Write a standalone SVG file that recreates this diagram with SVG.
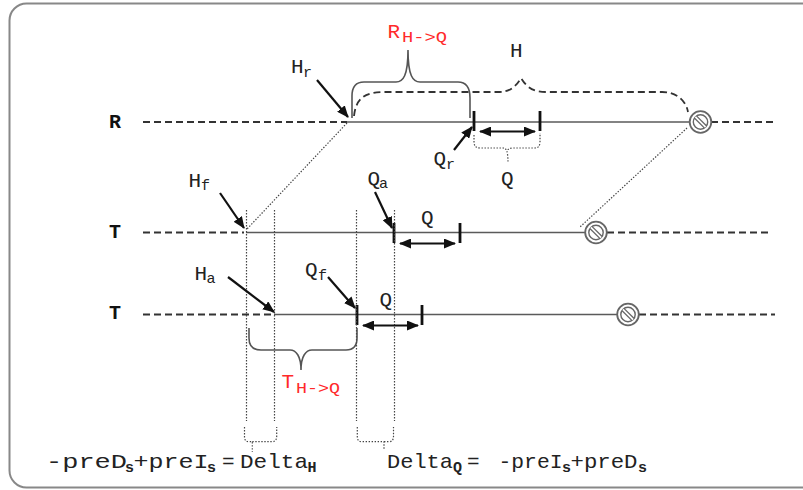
<svg xmlns="http://www.w3.org/2000/svg" xmlns:xlink="http://www.w3.org/1999/xlink" width="803" height="490" viewBox="0 0 803 490">
<style>
.dash{fill:none;stroke:#333;stroke-width:1.8;stroke-dasharray:7 4}
.solid{fill:none;stroke:#5a5a5a;stroke-width:1.7}
.tick{stroke:#111;stroke-width:2.8}
.ptr{stroke:#111;stroke-width:2.2;fill:none;marker-end:url(#ah)}
.dbl{stroke:#111;stroke-width:2.2;fill:none;marker-start:url(#ah);marker-end:url(#ah)}
.dot{fill:none;stroke:#444;stroke-width:1.2;stroke-dasharray:1.4 1.6}
.brace{fill:none;stroke:#555;stroke-width:1.6}
.lbl{font-family:"Liberation Mono",monospace;font-size:21px;fill:#222}
.sub{font-family:"Liberation Mono",monospace;font-size:15px;fill:#222}
.rsub{font-family:"Liberation Mono",monospace;font-size:14px;fill:#ff2a2a}
.red{fill:#ff2a2a}
.axis{font-family:"Liberation Mono",monospace;font-size:20px;font-weight:bold;fill:#111}
.eq{font-family:"Liberation Mono",monospace;font-size:21px;fill:#222}
.eqs{font-family:"Liberation Mono",monospace;font-size:15px;font-weight:bold;fill:#222}
</style>
<defs>
<marker id="ah" viewBox="0 0 12 10" refX="11" refY="5" markerWidth="12" markerHeight="10" markerUnits="userSpaceOnUse" orient="auto-start-reverse">
<path d="M0,0 L12,5 L0,10 z" fill="#111"/>
</marker>
<g id="stopSym">
<circle r="10.8" fill="#fff" stroke="#666" stroke-width="1.8"/>
<circle r="7.2" fill="none" stroke="#666" stroke-width="1.4"/>
<line x1="-5.1" y1="-5.1" x2="5.1" y2="5.1" stroke="#666" stroke-width="4.2"/>
<line x1="-5.1" y1="-5.1" x2="5.1" y2="5.1" stroke="#fff" stroke-width="1.6"/>
</g>
</defs>
<rect width="803" height="490" fill="#fff"/>
<rect id="frame" x="9.5" y="3.5" width="830" height="484" rx="17" fill="none" stroke="#888" stroke-width="2"/>

<g id="timeline-R">
<text class="axis" x="109" y="128">R</text>
<line class="dash" x1="143" y1="122" x2="347" y2="122"/>
<line class="solid" x1="347" y1="122" x2="690" y2="122"/>
<line class="dash" x1="711" y1="122" x2="775" y2="122"/>
<use xlink:href="#stopSym" x="700.5" y="122"/>
<line class="tick" x1="474" y1="111" x2="474" y2="131"/>
<line class="tick" x1="540" y1="111" x2="540" y2="131"/>
</g>

<g id="timeline-T1">
<text class="axis" x="109" y="238">T</text>
<line class="dash" x1="143" y1="232.5" x2="244" y2="232.5"/>
<line class="solid" x1="246" y1="232.5" x2="586" y2="232.5"/>
<line class="dash" x1="607" y1="232.5" x2="772" y2="232.5"/>
<use xlink:href="#stopSym" x="596" y="232.5"/>
<line class="tick" x1="394" y1="223" x2="394" y2="243"/>
<line class="tick" x1="460" y1="223" x2="460" y2="243"/>
</g>

<g id="timeline-T2">
<text class="axis" x="109" y="319">T</text>
<line class="dash" x1="143" y1="314.5" x2="272" y2="314.5"/>
<line class="solid" x1="274" y1="314.5" x2="617" y2="314.5"/>
<line class="dash" x1="639" y1="314.5" x2="775" y2="314.5"/>
<use xlink:href="#stopSym" x="628" y="314.5"/>
<line class="tick" x1="357" y1="305" x2="357" y2="325"/>
<line class="tick" x1="422" y1="305" x2="422" y2="325"/>
</g>

<g id="brace-R">
<path class="brace" d="M352 118 L352 96 C352 87 356 82 364 82 L396 82 C403 82 408 76 408 50 C408 76 413 82 420 82 L458 82 C466 82 470 88 470 98 L470 118"/>
<text class="lbl red" x="387.5" y="38">R</text>
<text class="rsub" x="402" y="42" textLength="45" lengthAdjust="spacingAndGlyphs">H-&gt;Q</text>
</g>

<g id="curve-H">
<path class="dash" d="M354 116 C356 98 365 92 385 92 L498 92 C509 92 515 88 521 78 C527 88 534 92 546 92 L662 92 C676 92 686 100 688 112" stroke-width="2"/>
<text class="lbl" x="510" y="57">H</text>
</g>

<g id="brace-Q">
<path class="dot" d="M474 135 L474 142 C474 146 476 148 480 148 L503 148 C506 148 508 150 508 163 M508 150 C508 149 510 148 513 148 L535 148 C538 148 540 146 540 142 L540 133"/>
<text class="lbl" x="501" y="185">Q</text>
</g>

<g id="brace-T">
<path class="brace" d="M249 328 L249 338 C249 346 253 350 261 350 L290 350 C296 350 301 356 301 370 C301 356 306 350 312 350 L346 350 C353 350 357 346 357 338 L357 328"/>
<text class="lbl red" x="281.5" y="388">T</text>
<text class="rsub" x="296" y="393" textLength="44" lengthAdjust="spacingAndGlyphs">H-&gt;Q</text>
</g>

<g id="guides">
<line class="dot" x1="246.5" y1="210" x2="246.5" y2="421"/>
<line class="dot" x1="274.5" y1="210" x2="274.5" y2="421"/>
<line class="dot" x1="356.5" y1="210" x2="356.5" y2="421"/>
<line class="dot" x1="394.5" y1="210" x2="394.5" y2="421"/>
<path class="dot" d="M244.5 427 L244.5 437 C244.5 440 246 441.7 249 441.7 L252.3 441.7 L252.3 452 M252.3 441.7 L272 441.7 C275 441.7 276.7 440 276.7 436 L276.7 427"/>
<path class="dot" d="M357.3 427 L357.3 437 C357.3 440 359 441.7 362 441.7 L384 441.7 L384 450 M384 441.7 L389 441.7 C392 441.7 393.5 440 393.5 436 L393.5 427"/>
</g>

<g id="connectors">
<line class="dot" x1="347" y1="123" x2="247" y2="229"/>
<line class="dot" x1="687" y1="128" x2="580" y2="227"/>
<line class="ptr" x1="317" y1="80" x2="348" y2="117"/>
<line class="ptr" x1="454" y1="150" x2="472" y2="127"/>
<line class="ptr" x1="220" y1="193" x2="244" y2="228"/>
<line class="ptr" x1="375" y1="192" x2="392" y2="228"/>
<line class="ptr" x1="228" y1="277" x2="274" y2="312"/>
<line class="ptr" x1="328" y1="277" x2="355" y2="308"/>
<line class="dbl" x1="480" y1="131.5" x2="535" y2="131.5"/>
<line class="dbl" x1="400" y1="243.5" x2="455" y2="243.5"/>
<line class="dbl" x1="363" y1="325.5" x2="418" y2="325.5"/>
</g>

<g id="labels">
<text class="lbl" x="291" y="73">H</text><text class="sub" x="303" y="77">r</text>
<text class="lbl" x="433.5" y="165">Q</text><text class="sub" x="446" y="169">r</text>
<text class="lbl" x="188.5" y="187">H</text><text class="sub" x="201" y="190">f</text>
<text class="lbl" x="367.5" y="185">Q</text><text class="sub" x="379" y="188">a</text>
<text class="lbl" x="421" y="224">Q</text>
<text class="lbl" x="194.5" y="280">H</text><text class="sub" x="206.5" y="283">a</text>
<text class="lbl" x="305" y="276">Q</text><text class="sub" x="318" y="280">f</text>
<text class="lbl" x="379.5" y="306">Q</text>
</g>

<g id="equations">
<text class="eq" x="46" y="468" textLength="81" lengthAdjust="spacingAndGlyphs">-preD</text>
<text class="eqs" x="125" y="472">s</text>
<text class="eq" x="133.5" y="468" textLength="75" lengthAdjust="spacingAndGlyphs">+preI</text>
<text class="eqs" x="207" y="472">s</text>
<text class="eq" x="222" y="468">=</text>
<text class="eq" x="240" y="468" textLength="68" lengthAdjust="spacingAndGlyphs">Delta</text>
<text class="eqs" x="307.5" y="472">H</text>
<text class="eq" x="387" y="468" textLength="66" lengthAdjust="spacingAndGlyphs">Delta</text>
<text class="eqs" x="453" y="472" font-weight="normal" font-size="13">Q</text>
<text class="eq" x="467" y="468">=</text>
<text class="eq" x="498.5" y="468" textLength="64" lengthAdjust="spacingAndGlyphs">-preI</text>
<text class="eqs" x="562" y="472">s</text>
<text class="eq" x="570.5" y="468" textLength="67" lengthAdjust="spacingAndGlyphs">+preD</text>
<text class="eqs" x="638" y="472">s</text>
</g>
</svg>
